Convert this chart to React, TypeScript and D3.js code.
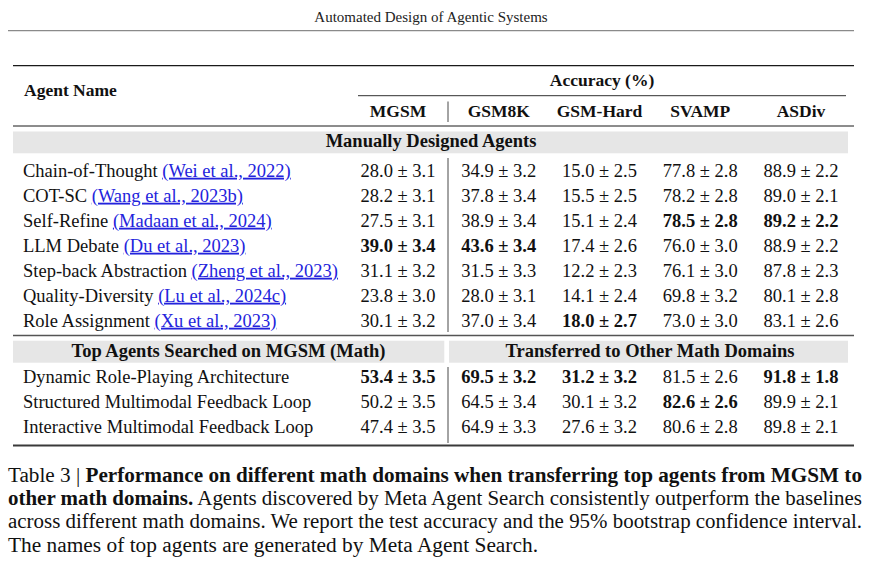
import * as d3 from "d3";
import React, { useRef, useEffect } from "react";

// column headers of the accuracy block
const columns = ["MGSM", "GSM8K", "GSM-Hard", "SVAMP", "ASDiv"];

// manually designed baselines
const baselineNames = [
  "Chain-of-Thought",
  "COT-SC",
  "Self-Refine",
  "LLM Debate",
  "Step-back Abstraction",
  "Quality-Diversity",
  "Role Assignment",
];
const baselineCites = [
  "(Wei et al., 2022)",
  "(Wang et al., 2023b)",
  "(Madaan et al., 2024)",
  "(Du et al., 2023)",
  "(Zheng et al., 2023)",
  "(Lu et al., 2024c)",
  "(Xu et al., 2023)",
];
const baselineMeans = [
  [28.0, 34.9, 15.0, 77.8, 88.9],
  [28.2, 37.8, 15.5, 78.2, 89.0],
  [27.5, 38.9, 15.1, 78.5, 89.2],
  [39.0, 43.6, 17.4, 76.0, 88.9],
  [31.1, 31.5, 12.2, 76.1, 87.8],
  [23.8, 28.0, 14.1, 69.8, 80.1],
  [30.1, 37.0, 18.0, 73.0, 83.1],
];
const baselineCIs = [
  [3.1, 3.2, 2.5, 2.8, 2.2],
  [3.1, 3.4, 2.5, 2.8, 2.1],
  [3.1, 3.4, 2.4, 2.8, 2.2],
  [3.4, 3.4, 2.6, 3.0, 2.2],
  [3.2, 3.3, 2.3, 3.0, 2.3],
  [3.0, 3.1, 2.4, 3.2, 2.8],
  [3.2, 3.4, 2.7, 3.0, 2.6],
];

// agents found by Meta Agent Search
const topNames = [
  "Dynamic Role-Playing Architecture",
  "Structured Multimodal Feedback Loop",
  "Interactive Multimodal Feedback Loop",
];
const topMeans = [
  [53.4, 69.5, 31.2, 81.5, 91.8],
  [50.2, 64.5, 30.1, 82.6, 89.9],
  [47.4, 64.9, 27.6, 80.6, 89.8],
];
const topCIs = [
  [3.5, 3.2, 3.2, 2.6, 1.8],
  [3.5, 3.4, 3.2, 2.6, 2.1],
  [3.5, 3.3, 3.2, 2.8, 2.1],
];

const runningHead = "Automated Design of Agentic Systems";
const groupTitles = [
  "Manually Designed Agents",
  "Top Agents Searched on MGSM (Math)",
  "Transferred to Other Math Domains",
];

// caption: [text, bold]
const captionLines: [string, boolean][][] = [
  [["Table 3 | ", false], ["Performance on different math domains when transferring top agents from MGSM to", true]],
  [["other math domains.", true], [" Agents discovered by Meta Agent Search consistently outperform the baselines", false]],
  [["across different math domains. We report the test accuracy and the 95% bootstrap confidence interval.", false]],
  [["The names of top agents are generated by Meta Agent Search.", false]],
];
const captionWidths = [854, 854, 854, 530];

const W = 871;
const H = 571;
const FONT = "'Liberation Serif', 'Times New Roman', serif";

export default function App() {
  const ref = useRef<SVGSVGElement>(null);

  useEffect(() => {
    draw();
  }, []);

  const draw = () => {
    const svg = d3.select(ref.current);
    svg.selectAll("*").remove();

    const left = 13, right = 854, bandRight = 848, sepX = 448;

    const x = d3.scalePoint<string>().domain(columns).range([398, 801]);
    const yBase = d3.scalePoint<string>().domain(baselineNames).range([176.7, 326.7]);
    const yTop = d3.scalePoint<string>().domain(topNames).range([383.3, 433.3]);

    // running head
    svg.append("text")
      .attr("x", 431).attr("y", 22)
      .attr("text-anchor", "middle")
      .attr("font-size", 15)
      .attr("fill", "#222")
      .text(runningHead);
    svg.append("line")
      .attr("x1", 8).attr("x2", right).attr("y1", 30.7).attr("y2", 30.7)
      .attr("stroke", "#8a8a8a").attr("stroke-width", 1.2);

    // rules
    const rule = (x1, x2, y, w, c) =>
      svg.append("line").attr("x1", x1).attr("x2", x2).attr("y1", y).attr("y2", y)
        .attr("stroke", c).attr("stroke-width", w);
    rule(left, right, 65.7, 1.2, "#1a1a1a");
    rule(358, 846, 95.7, 0.9, "#1a1a1a");
    rule(left, right, 126, 1, "#1a1a1a");
    rule(left, right, 335.5, 1.4, "#555");
    rule(left, right, 445.5, 2.2, "#3a3a3a");

    // vertical separators
    const vsep = (y1, y2) =>
      svg.append("line").attr("x1", sepX).attr("x2", sepX).attr("y1", y1).attr("y2", y2)
        .attr("stroke", "#333").attr("stroke-width", 0.9);
    vsep(101.5, 122);
    vsep(158, 332);
    vsep(367, 443);

    // shaded group bands
    const band = (x1, x2, y1, y2) =>
      svg.append("rect").attr("x", x1).attr("y", y1).attr("width", x2 - x1).attr("height", y2 - y1)
        .attr("fill", "#e6e6e6");
    band(left, bandRight, 131.5, 153.3);
    band(left, 444.3, 340.7, 362.7);
    band(449, bandRight, 340.7, 362.7);

    const bold = (txt, xx, yy, anchor = "middle", size = 17.5) =>
      svg.append("text").attr("x", xx).attr("y", yy)
        .attr("text-anchor", anchor)
        .attr("font-size", size).attr("font-weight", "bold")
        .attr("fill", "#111")
        .text(txt);

    bold("Agent Name", 24, 95.5, "start");
    bold("Accuracy (%)", 602, 86);
    columns.forEach(c => bold(c, x(c), 116.7));
    bold(groupTitles[0], 431, 147, "middle", 18.5);
    bold(groupTitles[1], 228.5, 357, "middle", 18.5);
    bold(groupTitles[2], 650, 357, "middle", 18.5);

    const fmt = d3.format(".1f");

    const drawValues = (means, cis, yPos, names) => {
      // bold the best value of each column within the block
      const best = columns.map((c, j) => d3.max(means, r => r[j]));
      means.forEach((row, i) => {
        row.forEach((m, j) => {
          svg.append("text")
            .attr("x", x(columns[j]))
            .attr("y", yPos(names[i]))
            .attr("text-anchor", "middle")
            .attr("font-size", 18.5)
            .attr("font-weight", m === best[j] ? "bold" : "normal")
            .attr("fill", "#111")
            .text(`${fmt(m)} ± ${fmt(cis[i][j])}`);
        });
      });
    };

    // baseline rows with citations
    baselineNames.forEach((n, i) => {
      const t = svg.append("text")
        .attr("x", 23).attr("y", yBase(n))
        .attr("font-size", 18.5)
        .attr("fill", "#111");
      t.append("tspan").text(n + " ");
      t.append("tspan")
        .attr("fill", "#2323dc")
        .attr("text-decoration", "underline")
        .text(baselineCites[i]);
    });
    drawValues(baselineMeans, baselineCIs, yBase, baselineNames);

    svg.selectAll("text.top")
      .data(topNames)
      .enter()
      .append("text")
      .attr("class", "top")
      .attr("x", 23).attr("y", d => yTop(d))
      .attr("font-size", 18.5)
      .attr("fill", "#111")
      .text(d => d);
    drawValues(topMeans, topCIs, yTop, topNames);

    // caption
    const capY = d3.scalePoint<number>().domain(d3.range(captionLines.length)).range([481.7, 551.7]);
    captionLines.forEach((parts, i) => {
      const t = svg.append("text")
        .attr("x", 8).attr("y", capY(i))
        .attr("font-size", 20)
        .attr("fill", "#111")
        .attr("textLength", captionWidths[i])
        .attr("lengthAdjust", "spacingAndGlyphs");
      parts.forEach(([s, b]) => {
        t.append("tspan").attr("font-weight", b ? "bold" : "normal").text(s);
      });
    });
  };

  return (
    <svg
      ref={ref}
      width={W}
      height={H}
      style={{ position: "absolute", left: 0, top: 0, fontFamily: FONT, background: "#fff" }}
    />
  );
}
